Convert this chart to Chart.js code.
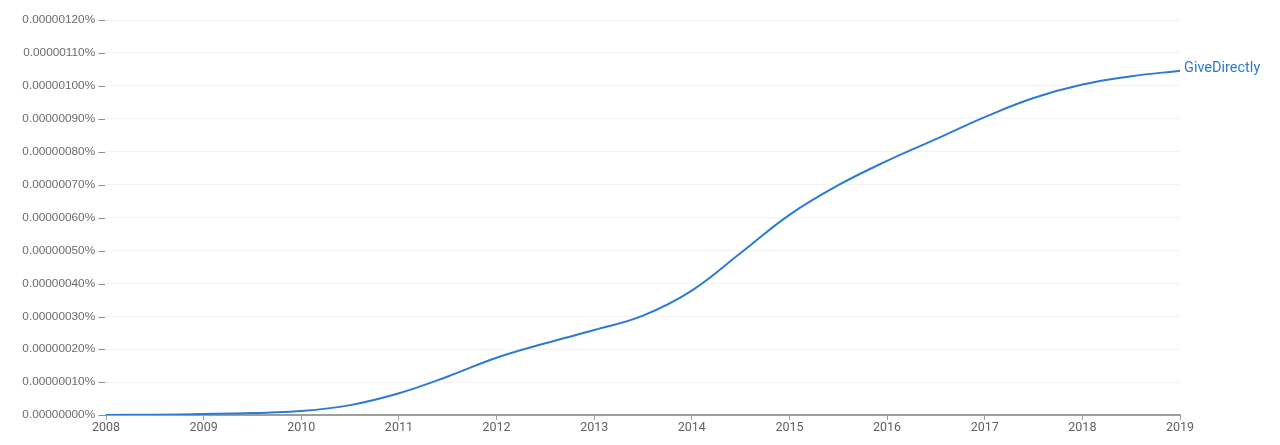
<!DOCTYPE html>
<html>
<head>
<meta charset="utf-8">
<script src="https://cdn.jsdelivr.net/npm/chart.js@4"></script>
<style>
  html, body { margin: 0; padding: 0; background: #fff; }
  #wrap { width: 1280px; height: 445px; position: relative; }
</style>
</head>
<body>
<div id="wrap"><canvas id="ngram"></canvas></div>
<script>
// values (percent)
const years = [2008, 2008.5, 2009, 2009.5, 2010, 2010.5, 2011, 2011.5, 2012, 2012.5, 2013, 2013.5,
               2014, 2014.5, 2015, 2015.5, 2016, 2016.5, 2017, 2017.5, 2018, 2018.5, 2019];
const giveDirectly = [0, 0.000000001, 0.000000003, 0.000000006, 0.000000012, 0.00000003,
                      0.000000066, 0.000000117, 0.000000174, 0.000000218, 0.000000258, 0.000000302,
                      0.000000378, 0.000000492, 0.000000608, 0.000000698, 0.000000772, 0.000000838,
                      0.000000905, 0.000000963, 0.000001004, 0.000001029, 0.000001046];
const seriesName = "GiveDirectly";
const yMax = 0.0000012;
const yStep = 0.0000001;

const lineColor = "#2b7bd2";

// put the series name at the end of the line
const endLabel = {
    id: "endLabel",
    afterDatasetsDraw(chart) {
        const ctx = chart.ctx;
        const meta = chart.getDatasetMeta(0);
        const last = meta.data[meta.data.length - 1];
        ctx.save();
        ctx.font = "14.5px Roboto";
        ctx.fillStyle = lineColor;
        ctx.textBaseline = "middle";
        ctx.fillText(seriesName, last.x + 4, last.y - 2);
        ctx.restore();
    }
};

new Chart(document.getElementById("ngram"), {
    type: "line",
    data: {
        datasets: [{
            label: seriesName,
            data: years.map((y, i) => ({ x: y, y: giveDirectly[i] })),
            borderColor: lineColor,
            borderWidth: 2,
            pointRadius: 0,
            tension: 0.4,
            fill: false
        }]
    },
    options: {
        responsive: true,
        maintainAspectRatio: false,
        animation: false,
        layout: { padding: { top: 20, right: 100, left: 0, bottom: 0 } },
        plugins: { legend: { display: false }, tooltip: { enabled: false } },
        scales: {
            x: {
                type: "linear",
                min: 2008,
                max: 2019,
                ticks: {
                    stepSize: 1,
                    color: "#616161",
                    font: { family: "Roboto", size: 12.5 },
                    padding: 0,
                    callback: v => String(v)
                },
                grid: { drawOnChartArea: false, drawTicks: true, tickLength: 5, color: "#9e9e9e", lineWidth: 1 },
                border: { color: "#9e9e9e", width: 2 },
                afterFit: s => { s.height = 30; }
            },
            y: {
                min: 0,
                max: yMax,
                ticks: {
                    stepSize: yStep,
                    color: "#6b6b6b",
                    font: { family: "Liberation Sans", size: 11.8 },
                    padding: 1,
                    callback: v => v.toFixed(8) + "% \u2013"
                },
                grid: { color: "#f2f2f2", drawTicks: false },
                border: { display: false },
                afterFit: s => { s.width = 106; }
            }
        }
    },
    plugins: [endLabel]
});
</script>
</body>
</html>
